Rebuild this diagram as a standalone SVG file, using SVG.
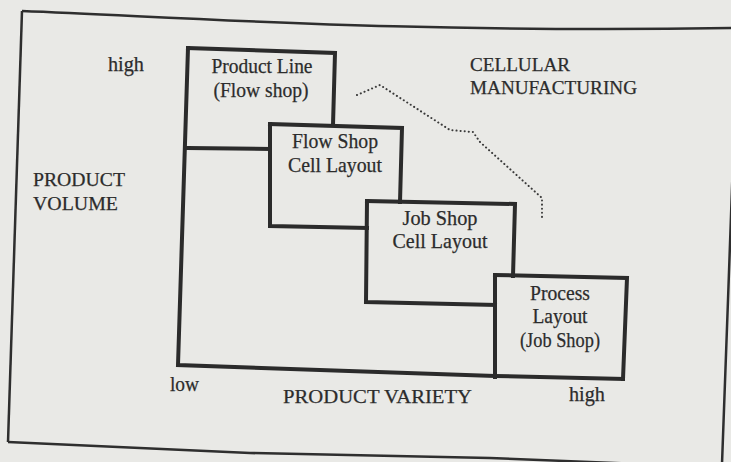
<svg xmlns="http://www.w3.org/2000/svg" width="731" height="462" viewBox="0 0 731 462">
  <style>
    .bg { fill: #e9e9e6; }
    .frame { fill: none; stroke: #2e2e2e; stroke-width: 2.5; stroke-linejoin: round; }
    .box { fill: none; stroke: #2b2b2b; stroke-width: 4; stroke-linejoin: miter; stroke-linecap: square; }
    .dots { fill: none; stroke: #3a3a3a; stroke-width: 2; stroke-dasharray: 0.1 4; stroke-linecap: round; }
    text { font-family: "Liberation Serif", "Times New Roman", serif; font-size: 21px; fill: #2c2c2c; stroke: #2c2c2c; stroke-width: 0.25; }
    .caps { font-size: 19px; }
    .c { text-anchor: middle; }
  </style>
  <rect class="bg" x="0" y="0" width="731" height="462"/>

  <g id="frame">
    <path class="frame" d="M22,11 C200,18 400,33 735,28"/>
    <path class="frame" d="M22,11 L8,442"/>
    <path class="frame" d="M8,442 L250,453 L490,458 L740,468"/>
    <path class="frame" d="M733,160 L728,300 L722,464"/>
  </g>

  <g id="axis-labels">
    <text x="108" y="71" textLength="36" lengthAdjust="spacingAndGlyphs">high</text>
    <text x="33" y="186" class="caps" textLength="92" lengthAdjust="spacingAndGlyphs">PRODUCT</text>
    <text x="33" y="210" class="caps" textLength="85" lengthAdjust="spacingAndGlyphs">VOLUME</text>
    <text x="170" y="391" textLength="29" lengthAdjust="spacingAndGlyphs">low</text>
    <text x="283" y="403" class="caps" textLength="189" lengthAdjust="spacingAndGlyphs">PRODUCT VARIETY</text>
    <text x="569" y="401" textLength="36" lengthAdjust="spacingAndGlyphs">high</text>
  </g>

  <g id="cellular-label">
    <text x="470" y="71" class="caps" textLength="100" lengthAdjust="spacingAndGlyphs">CELLULAR</text>
    <text x="470" y="94" class="caps" textLength="167" lengthAdjust="spacingAndGlyphs">MANUFACTURING</text>
  </g>

  <g id="staircase-base">
    <path class="box" d="M188,48 L178,365 L495,376 L623,379"/>
  </g>

  <g id="product-line">
    <path class="box" d="M188,48 L335,53 L333,125"/>
    <path class="box" d="M188,148 L270,149"/>
    <text x="262" y="73" class="c" textLength="101" lengthAdjust="spacingAndGlyphs">Product Line</text>
    <text x="261" y="97" class="c" textLength="95" lengthAdjust="spacingAndGlyphs">(Flow shop)</text>
  </g>

  <g id="flow-shop-cell">
    <path class="box" d="M270,124 L402,128 L400,202"/>
    <path class="box" d="M270,124 L270,226 L367,228"/>
    <text x="335" y="148" class="c" textLength="86" lengthAdjust="spacingAndGlyphs">Flow Shop</text>
    <text x="335" y="172" class="c" textLength="94" lengthAdjust="spacingAndGlyphs">Cell Layout</text>
  </g>

  <g id="job-shop-cell">
    <path class="box" d="M367,201 L515,204 L513,276"/>
    <path class="box" d="M367,201 L366,302 L495,305"/>
    <text x="440" y="225" class="c" textLength="75" lengthAdjust="spacingAndGlyphs">Job Shop</text>
    <text x="440" y="248" class="c" textLength="95" lengthAdjust="spacingAndGlyphs">Cell Layout</text>
  </g>

  <g id="process-layout">
    <path class="box" d="M495,275 L627,278 L623,379"/>
    <path class="box" d="M495,275 L495,377"/>
    <text x="560" y="300" class="c" textLength="60" lengthAdjust="spacingAndGlyphs">Process</text>
    <text x="560" y="323" class="c" textLength="55" lengthAdjust="spacingAndGlyphs">Layout</text>
    <text x="560" y="347" class="c" textLength="80" lengthAdjust="spacingAndGlyphs">(Job Shop)</text>
  </g>

  <g id="connectors">
    <path class="dots" d="M357,95 L380,85 L450,130 L473,132 L480,142 L542,198 L542,218"/>
  </g>
</svg>
